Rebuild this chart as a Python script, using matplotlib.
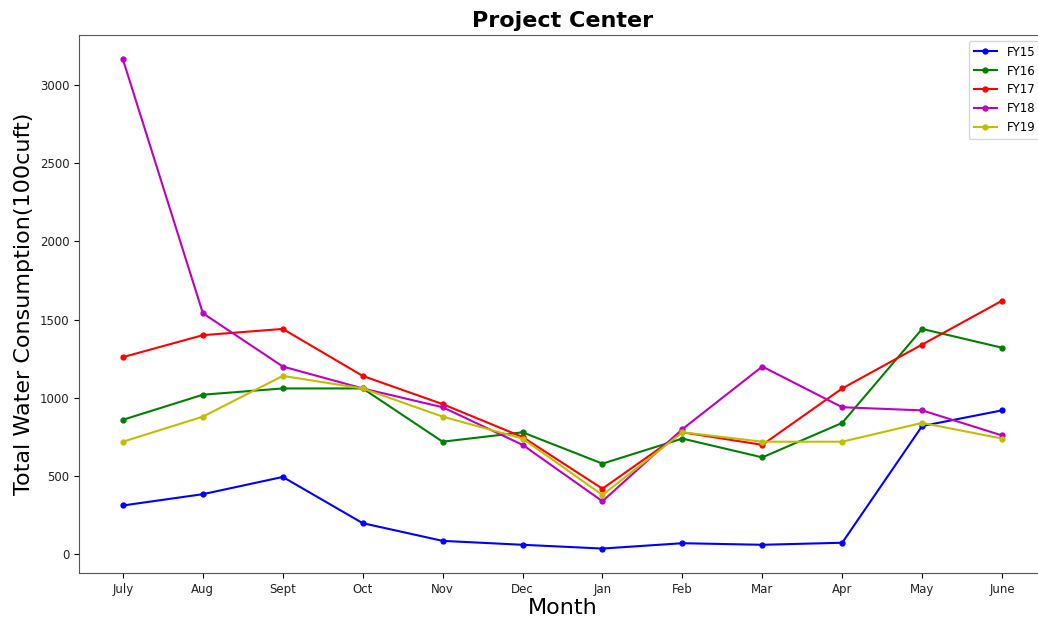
import matplotlib
matplotlib.use("Agg")
import matplotlib.pyplot as plt

# Months (fiscal year order)
months = ['July', 'Aug', 'Sept', 'Oct', 'Nov', 'Dec',
          'Jan', 'Feb', 'Mar', 'Apr', 'May', 'June']

# Water consumption per fiscal year (100 cuft)
fy15 = [313, 385, 495, 200, 87, 62, 38, 72, 62, 75, 820, 920]
fy16 = [860, 1020, 1060, 1060, 720, 780, 580, 740, 620, 840, 1440, 1320]
fy17 = [1260, 1400, 1440, 1140, 960, 750, 420, 780, 700, 1060, 1340, 1620]
fy18 = [3160, 1540, 1200, 1060, 940, 700, 340, 800, 1200, 940, 920, 760]
fy19 = [720, 880, 1140, 1060, 880, 740, 380, 780, 720, 720, 840, 740]

series = [('FY15', fy15, 'b'), ('FY16', fy16, 'g'), ('FY17', fy17, 'r'),
          ('FY18', fy18, 'm'), ('FY19', fy19, 'y')]

fig = plt.figure(figsize=(10.38, 6.17), dpi=100)
# the right part of the axes runs past the picture edge, as in the reference
ax = fig.add_axes([79 / 1038, 1 - 573 / 617, (1046 - 79) / 1038, (573 - 35) / 617])

x = range(len(months))
for name, vals, c in series:
    ax.plot(x, vals, color=c, marker='o', markersize=3.5, linewidth=1.5, label=name)

ax.set_xticks(list(x))
ax.set_xticklabels(months)
ax.tick_params(labelsize=8.5, labelcolor='#222222')
for s in ax.spines.values():
    s.set_color('#555555')
ax.set_title('Project Center', fontsize=16, fontweight='bold')
ax.set_xlabel('Month', fontsize=16, labelpad=2)
ax.set_ylabel('Total Water Consumption(100cuft)', fontsize=16)
ax.legend(loc='upper right', fontsize=8.5)

fig.savefig('out.png', dpi=100)
